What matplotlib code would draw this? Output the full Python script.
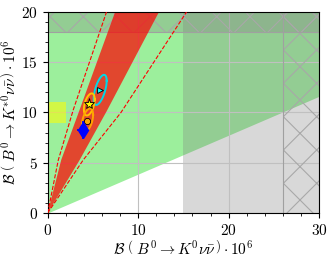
import matplotlib
matplotlib.use('Agg')
import matplotlib.pyplot as plt
from matplotlib.ticker import MultipleLocator, FuncFormatter
import numpy as np

plt.rcParams['mathtext.fontset'] = 'cm'
plt.rcParams['font.family'] = 'serif'
plt.rcParams['font.serif'] = ['DejaVu Serif']
plt.rcParams['hatch.color'] = '#a8a8a8'
plt.rcParams['hatch.linewidth'] = 0.8

# allowed region (green): above the line y = slope * x
green_slope = 0.387
# excluded bands
gray_x = [15, 30]
hatch_x = [26, 30]
hatch_y = [18, 20]
# yellow box
box_x = [0, 2]
box_y = [9, 11]
# red band edges (x, y)
red_left_x = [0, 1.5, 3.5, 7.45]
red_left_y = [0, 5.3, 10.2, 20.0]
red_right_x = [0, 3.55, 6.5, 12.3]
red_right_y = [0, 5.3, 10.1, 20.0]
# dashed lines
dash1_x = [0, 1.17, 2.82, 6.5]
dash1_y = [0, 5.27, 10.25, 20.0]
dash2_x = [0, 3.92, 8.1, 15.35]
dash2_y = [0, 5.27, 10.0, 20.0]
# points
diam = (3.86, 8.25)
diam_xerr = 0.6
diam_yerr = 0.9
circ = (4.37, 9.15)
star = (4.55, 10.8)
tri = (5.75, 12.25)
# ellipses: center x, center y, sigma x, sigma y, rho
ell_tri = (5.8, 12.25, 0.72, 1.5, 0.6)
ell_star = (4.6, 10.8, 0.6, 1.1, 0.45)
ell_circ = (4.4, 9.25, 0.62, 1.15, 0.45)

fig = plt.figure(figsize=(3.32, 2.61), dpi=100)
ax = fig.add_axes([0.1437, 0.184, 0.8173, 0.77])

xx = np.array([0, 30])
ax.fill_between(xx, green_slope * xx, 20, color='#9cef9c', lw=0, zorder=0)
ax.axvspan(gray_x[0], gray_x[1], color='gray', alpha=0.3, lw=0, zorder=0.5)
ax.fill_between([0, 30], hatch_y[0], hatch_y[1], facecolor=(0.5, 0.5, 0.5, 0.3),
                edgecolor='#a8a8a8', hatch='x', lw=0, zorder=0.6)
ax.fill_between(hatch_x, 0, 20, facecolor='none', edgecolor='#a8a8a8', hatch='x', lw=0, zorder=0.6)
ax.axvline(hatch_x[0], color='#a0a0a0', lw=0.8, zorder=0.7)
ax.axhline(hatch_y[0], color='#a0a0a0', lw=0.8, zorder=0.7)
ax.fill_between(box_x, box_y[0], box_y[1], color='yellow', alpha=0.55, lw=0, zorder=0.8)

ax.grid(True, color='#c0c0c0', lw=0.8, zorder=1)
ax.set_axisbelow(True)

px = red_left_x + red_right_x[::-1]
py = red_left_y + red_right_y[::-1]
ax.fill(px, py, color='red', alpha=0.7, lw=0, zorder=2)

ax.plot(dash1_x, dash1_y, color='red', ls='--', lw=0.8, zorder=3)
ax.plot(dash2_x, dash2_y, color='red', ls='--', lw=0.8, zorder=3)

t = np.linspace(0, 2 * np.pi, 200)
for (cx, cy, sx, sy, r), c in [(ell_tri, '#00d8e8'), (ell_star, '#ffc400'), (ell_circ, '#ffa500')]:
    ex = cx + sx * np.cos(t)
    ey = cy + sy * (r * np.cos(t) + np.sqrt(1 - r * r) * np.sin(t))
    ax.plot(ex, ey, color=c, lw=1.4, zorder=4)

ax.errorbar([diam[0]], [diam[1]], xerr=[diam_xerr], yerr=[diam_yerr], fmt='d',
            color='blue', ecolor='blue', ms=8, elinewidth=1.3, capsize=0, zorder=7)
ax.plot(*circ, 'o', color='orange', mec='black', mew=0.6, ms=4.5, zorder=6)
ax.plot(*star, '*', color='yellow', mec='black', mew=0.6, ms=8, zorder=6)
ax.plot(*tri, '>', color='cyan', mec='black', mew=0.6, ms=5, zorder=6)

ax.set_xlim(0, 30)
ax.set_ylim(0, 20)
ax.xaxis.set_major_locator(MultipleLocator(10))
ax.xaxis.set_minor_locator(MultipleLocator(2))
ax.yaxis.set_major_locator(MultipleLocator(5))
ax.yaxis.set_minor_locator(MultipleLocator(1))
fmt = FuncFormatter(lambda v, p: r'$%d$' % v)
ax.xaxis.set_major_formatter(fmt)
ax.yaxis.set_major_formatter(fmt)
ax.tick_params(labelsize=11)
tall = r'\genfrac{}{}{0}{0}{\,}{\,}'
ax.set_xlabel(r'$\mathcal{B}\ \left(' + tall + r'B^0\to K^0\nu\bar{\nu}\/\right)\cdot 10^6$',
              fontsize=11, labelpad=1)
ax.set_ylabel(r'$\mathcal{B}\ \left(' + tall + r'B^0\to K^{*0}\nu\bar{\nu}\/\right)\cdot 10^6$',
              fontsize=11, labelpad=2)

fig.savefig('out.png', dpi=100)
